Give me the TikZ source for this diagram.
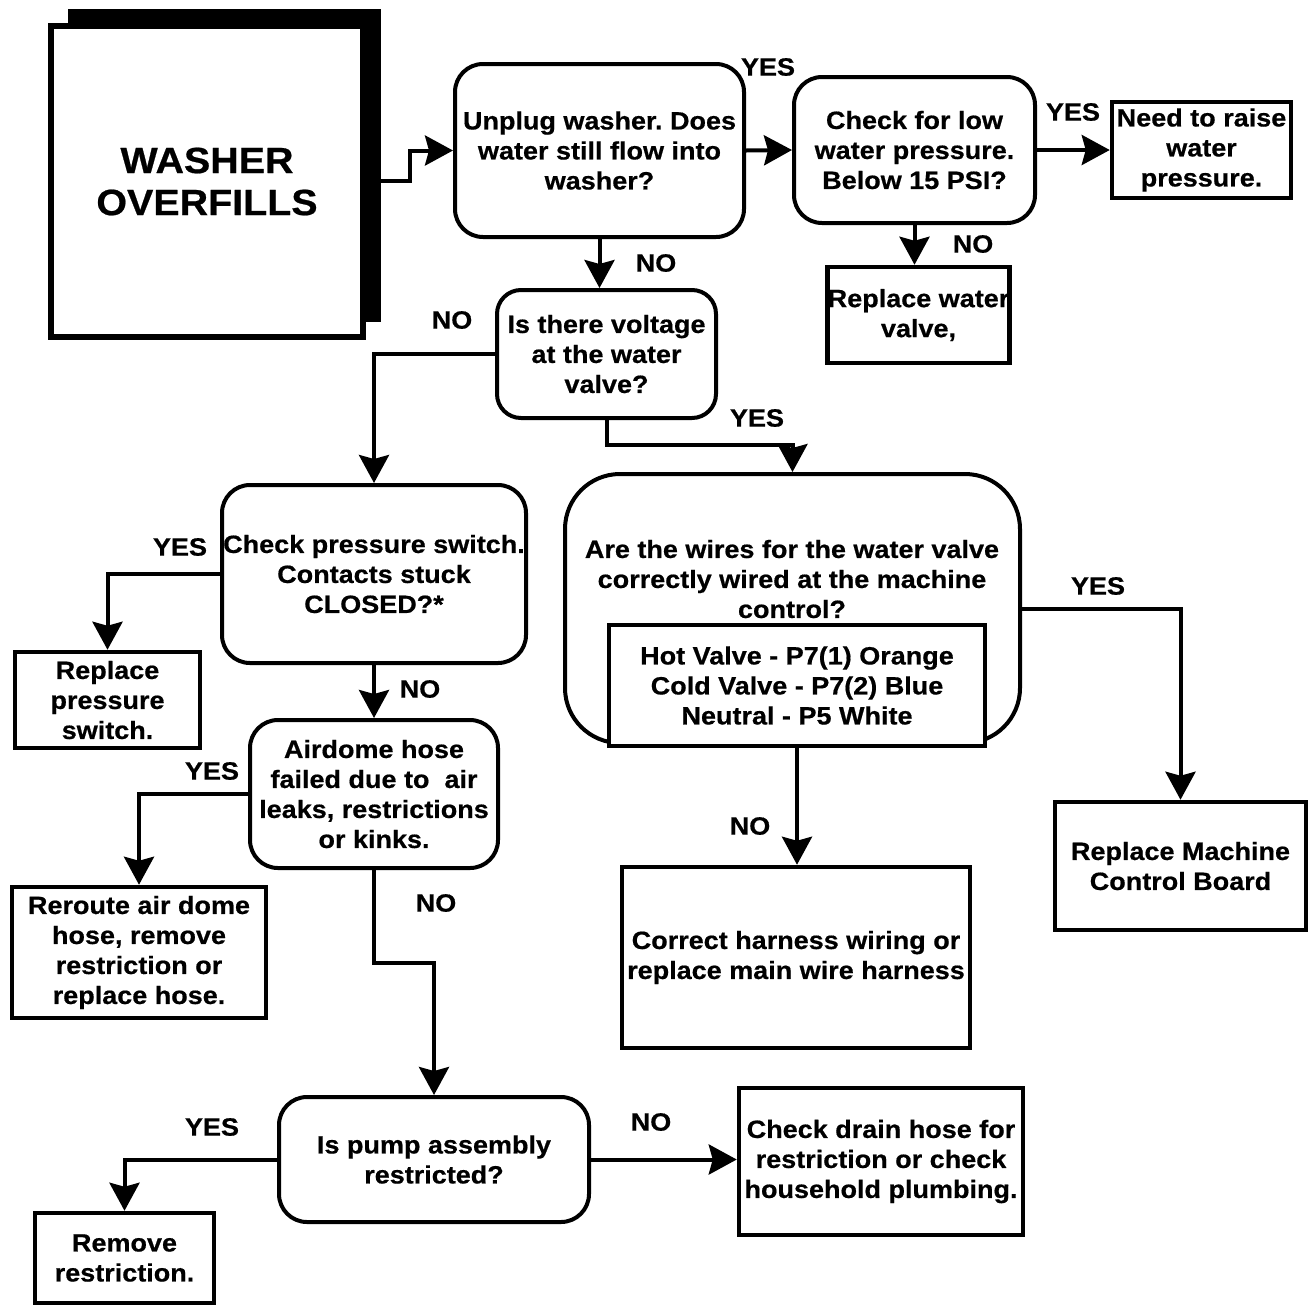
\documentclass[tikz,border=0pt]{standalone}
\usepackage{fontspec}
\setmainfont{Liberation Sans}[FakeStretch=1.08, BoldFeatures={FakeBold=0.6}]
\usetikzlibrary{arrows.meta}
\frenchspacing

\begin{document}
\begin{tikzpicture}[x=1pt, y=-1pt,
  every node/.style={font=\fontsize{25}{30}\selectfont\bfseries, align=center, inner sep=0pt},
  ask/.style={draw, line width=4pt, rounded corners=28pt},
  fix/.style={draw, line width=4.5pt},
  flow/.style={line width=4pt, -{Stealth[length=28pt, width=30pt, inset=4pt]}}]
  \useasboundingbox (0, 0) rectangle (1311, 1307);

  % start box with its shadow
  \node[fill=black, minimum width=313pt, minimum height=313pt] at (224.5, 165.5) (shadow) {};
  \node[draw, fill=white, line width=6pt, minimum width=312pt, minimum height=311pt,
    font=\fontsize{36.5}{42}\selectfont\bfseries] at (207, 181.5) (washer) {WASHER\\OVERFILLS};

  \node[ask, minimum width=289pt, minimum height=173pt] at (599.5, 150.5) (flow1) {Unplug washer. Does\\water still flow into\\washer?};
  \node[ask, minimum width=241pt, minimum height=146pt] at (914.5, 150) (lowpsi) {Check for low\\water pressure.\\Below 15 PSI?};
  \node[fix, minimum width=179pt, minimum height=96pt] at (1201.5, 150) (raise) {Need to raise\\water\\pressure.};
  \node[fix, minimum width=179pt, minimum height=96pt] at (918.5, 315) (valve) {Replace water\\valve,};
  \node[ask, rounded corners=24pt, minimum width=219pt, minimum height=128pt] at (606.5, 354) (volt) {Is there voltage\\at the water\\valve?};

  \node[ask, minimum width=304pt, minimum height=178pt] at (374, 574) (pswitch) {Check pressure switch.\\Contacts stuck\\CLOSED?*};
  \node[fix, minimum width=185pt, minimum height=96pt] at (107.5, 700) (newswitch) {Replace\\pressure\\switch.};
  \node[ask, minimum width=248pt, minimum height=148pt] at (374, 794) (airdome) {Airdome hose\\failed due to~ air\\leaks, restrictions\\or kinks.};
  \node[fix, minimum width=254pt, minimum height=131pt] at (139, 952.5) (reroute) {Reroute air dome\\hose, remove\\restriction or\\replace hose.};
  \node[ask, minimum width=310pt, minimum height=125pt] at (434, 1159.5) (pump) {Is pump assembly\\restricted?};
  \node[fix, minimum width=179pt, minimum height=90pt] at (124.5, 1258) (remove) {Remove\\restriction.};
  \node[fix, minimum width=284pt, minimum height=147pt] at (881, 1161.5) (drain) {Check drain hose for\\restriction or check\\household plumbing.};

  % wiring question with the connector table inside
  \node[ask, rounded corners=55pt, minimum width=455pt, minimum height=269pt] at (792.5, 608.5) (wiring) {};
  \node at (792, 579) (wiringtxt) {Are the wires for the water valve\\correctly wired at the machine\\control?};
  \node[fix, fill=white, line width=4pt, minimum width=376pt, minimum height=121pt] at (797, 685.5) (pins) {Hot Valve - P7(1) Orange\\Cold Valve - P7(2) Blue\\Neutral - P5 White};
  \node[fix, minimum width=348pt, minimum height=181pt] at (796, 957.5) (harness) {Correct harness wiring or\\replace main wire harness};
  \node[fix, minimum width=251pt, minimum height=128pt] at (1180.5, 866) (board) {Replace Machine\\Control Board};

  % connectors
  \draw[flow] ([yshift=-15pt]shadow.east) -- ++(29, 0) |- (flow1.west);
  \draw[flow] (flow1.east) -- (lowpsi.west);
  \draw[flow] (lowpsi.east) -- (raise.west);
  \draw[flow] (lowpsi.south) -- (lowpsi.south |- valve.north);
  \draw[flow] (flow1.south) -- (flow1.south |- volt.north);
  \draw[flow] (volt.west) -| (pswitch.north);
  \draw[flow] (volt.south) -- ++(0, 25) -| (wiring.north);
  \draw[flow] (wiring.east) -| (board.north);
  \draw[flow] (pins.south) -- (pins.south |- harness.north);
  \draw[flow] (pswitch.west) -| (newswitch.north);
  \draw[flow] (pswitch.south) -- (pswitch.south |- airdome.north);
  \draw[flow] (airdome.west) -| (reroute.north);
  \draw[flow] (airdome.south) -- ++(0, 93) -| (pump.north);
  \draw[flow] (pump.west) -| (remove.north);
  \draw[flow] (pump.east) -- (pump.east -| drain.west);

  % answers
  \node at (768, 67) (y1) {YES};
  \node at (1073, 112) (y2) {YES};
  \node at (973, 244) (n2) {NO};
  \node at (656, 263) (n1) {NO};
  \node at (452, 320) (n3) {NO};
  \node at (757, 418) (y3) {YES};
  \node at (1098, 586) (y5) {YES};
  \node at (180, 547) (y4) {YES};
  \node at (420, 689) (n4) {NO};
  \node at (212, 771) (y6) {YES};
  \node at (750, 826) (n5) {NO};
  \node at (436, 903) (n6) {NO};
  \node at (212, 1127) (y7) {YES};
  \node at (651, 1122) (n7) {NO};

\end{tikzpicture}
\end{document}
